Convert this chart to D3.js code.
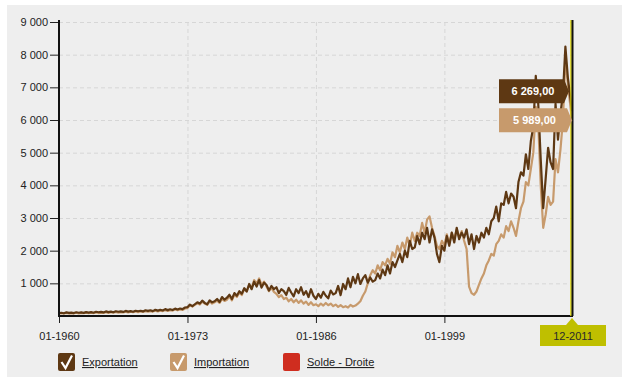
<!DOCTYPE html>
<html>
<head>
<meta charset="utf-8">
<script src="https://cdn.jsdelivr.net/npm/d3@7"></script>
<style>
  body { margin: 0; background: #fff; }
  svg text { font-family: "Liberation Sans", Arial, sans-serif; }
</style>
</head>
<body>
<svg id="chart" width="635" height="385"></svg>
<script>
(function () {
  // one row of 4 quarterly values (Jan, Apr, Jul, Oct) per year
  const years = [1960, 1961, 1962, 1963, 1964, 1965, 1966, 1967, 1968, 1969,
    1970, 1971, 1972, 1973, 1974, 1975, 1976, 1977, 1978, 1979,
    1980, 1981, 1982, 1983, 1984, 1985, 1986, 1987, 1988, 1989,
    1990, 1991, 1992, 1993, 1994, 1995, 1996, 1997, 1998, 1999,
    2000, 2001, 2002, 2003, 2004, 2005, 2006, 2007, 2008, 2009,
    2010, 2011];

  const exportQ = [
    [90, 100, 85, 110], [95, 105, 90, 115], [100, 110, 95, 120], [105, 120, 100, 130],
    [115, 125, 110, 140], [120, 135, 115, 145], [130, 140, 125, 155], [135, 150, 130, 160],
    [145, 160, 140, 175], [155, 175, 150, 190], [165, 190, 170, 210], [180, 205, 185, 225],
    [200, 230, 210, 260], [270, 350, 300, 360], [420, 380, 470, 400], [360, 480, 420, 450],
    [520, 430, 580, 500], [560, 650, 520, 700], [620, 760, 680, 850], [750, 980, 820, 1050],
    [900, 1100, 870, 1020], [950, 780, 920, 820], [880, 700, 820, 760], [650, 860, 720, 600],
    [820, 700, 880, 650], [760, 580, 820, 620], [520, 680, 560, 740], [620, 540, 780, 660],
    [700, 920, 640, 980], [820, 1150, 880, 1200], [1000, 1280, 980, 1150], [1250, 1020, 1180, 1050],
    [1100, 1300, 1150, 1420], [1250, 1550, 1300, 1650], [1500, 1700, 1900, 1650], [2000, 1800, 2300, 2050],
    [2100, 2450, 2200, 2550], [2350, 2700, 2250, 2650], [2400, 1900, 1650, 2150], [2000, 2450, 2150, 2550],
    [2250, 2700, 2350, 2550], [2400, 2650, 2200, 2500], [2050, 2450, 2250, 2550], [2400, 2700, 2500, 2900],
    [3000, 3350, 2900, 3450], [3400, 3800, 3450, 3750], [3650, 3300, 4100, 4400], [4300, 4950, 4500, 5350],
    [5800, 7350, 6500, 4800], [3300, 4200, 5150, 4700], [4500, 6500, 5400, 6200], [6800, 8250, 7300]
  ];

  const importQ = [
    [70, 85, 75, 95], [75, 90, 80, 100], [80, 95, 85, 105], [85, 100, 90, 110],
    [90, 105, 95, 120], [95, 115, 100, 125], [105, 120, 110, 135], [110, 130, 115, 140],
    [120, 140, 125, 150], [130, 150, 135, 165], [140, 165, 150, 180], [155, 180, 165, 200],
    [175, 200, 185, 230], [240, 330, 290, 340], [390, 350, 440, 380], [340, 450, 380, 420],
    [470, 400, 520, 460], [500, 600, 480, 650], [580, 720, 640, 820], [760, 950, 850, 1100],
    [1000, 1150, 950, 1050], [900, 760, 860, 740], [680, 580, 640, 520], [560, 450, 520, 420],
    [500, 400, 480, 380], [440, 340, 420, 330], [360, 300, 380, 320], [400, 330, 380, 300],
    [350, 280, 330, 270], [300, 260, 340, 290], [320, 380, 450, 620], [750, 1000, 1250, 1400],
    [1300, 1550, 1400, 1650], [1550, 1750, 1600, 1950], [1800, 2150, 1950, 2250], [2050, 2400, 2150, 2550],
    [2300, 2550, 2450, 2850], [2550, 2950, 3050, 2700], [2450, 2150, 2050, 2300], [2150, 2500, 2200, 2550],
    [2350, 2650, 2400, 2600], [2300, 2050, 900, 700], [650, 750, 950, 1150], [1300, 1550, 1700, 1900],
    [1850, 2200, 2300, 2500], [2400, 2750, 2600, 2900], [2700, 2450, 2900, 3300], [3500, 4100, 4000, 4500],
    [5000, 6400, 5900, 4000], [2700, 3100, 3650, 3400], [3500, 4800, 4400, 5100], [6000, 7900, 7100]
  ];

  const lastMonth = '12-2011';
  const lastExport = 6269;
  const lastImport = 5989;

  const yTicks = [1000, 2000, 3000, 4000, 5000, 6000, 7000, 8000, 9000];
  const xTicks = ['01-1960', '01-1973', '01-1986', '01-1999'];
  const legendNames = ['Exportation', 'Importation', 'Solde - Droite'];
  const legendColors = ['#5e3813', '#c79a6c', '#cf2d1f'];

  const left = 59, right = 572, top = 22, bottom = 316;

  const fr = d3.formatLocale({ decimal: ',', thousands: '\u00a0', grouping: [3], currency: ['', ''] });
  const fmtInt = fr.format(',.0f');
  const fmtVal = fr.format(',.2f');
  const parseMonth = d3.timeParse('%m-%Y');

  function toSeries(rows, last) {
    const pts = [];
    rows.forEach((q, i) => {
      q.forEach((v, j) => pts.push({ date: new Date(years[i], j * 3, 1), value: v }));
    });
    pts.push({ date: parseMonth(lastMonth), value: last });
    return pts;
  }

  const exportData = toSeries(exportQ, lastExport);
  const importData = toSeries(importQ, lastImport);

  const x = d3.scaleTime()
    .domain([parseMonth('01-1960'), parseMonth(lastMonth)])
    .range([left, right]);
  const y = d3.scaleLinear().domain([0, 9000]).range([bottom, top]);

  const svg = d3.select('#chart');

  svg.append('rect')
    .attr('x', 7).attr('y', 5).attr('width', 615).attr('height', 372)
    .attr('fill', '#eeeeee');

  // grid
  svg.append('g').selectAll('line')
    .data(yTicks)
    .join('line')
    .attr('x1', left).attr('x2', right)
    .attr('y1', d => y(d) + 0.5).attr('y2', d => y(d) + 0.5)
    .attr('stroke', '#d6d6d6').attr('stroke-dasharray', '4,3');

  svg.append('g').selectAll('line')
    .data(xTicks.slice(1))
    .join('line')
    .attr('x1', d => x(parseMonth(d)) + 0.5).attr('x2', d => x(parseMonth(d)) + 0.5)
    .attr('y1', top).attr('y2', bottom)
    .attr('stroke', '#d6d6d6').attr('stroke-dasharray', '4,3');

  // lines
  const line = d3.line().x(d => x(d.date)).y(d => y(d.value));

  svg.append('path')
    .datum(importData)
    .attr('d', line)
    .attr('fill', 'none').attr('stroke', legendColors[1])
    .attr('stroke-width', 2.2).attr('stroke-linejoin', 'round');

  svg.append('path')
    .datum(exportData)
    .attr('d', line)
    .attr('fill', 'none').attr('stroke', legendColors[0])
    .attr('stroke-width', 2.2).attr('stroke-linejoin', 'round');

  // y axis
  const yAxis = svg.append('g')
    .attr('transform', `translate(${left},0)`)
    .call(d3.axisLeft(y).tickValues(yTicks).tickSize(9).tickPadding(2).tickFormat(fmtInt));
  yAxis.select('.domain').remove();
  yAxis.selectAll('.tick line').attr('stroke', '#222');
  yAxis.selectAll('.tick text').attr('font-size', 11).attr('fill', '#222')
    .attr('font-family', '"Liberation Sans", Arial, sans-serif');
  svg.append('line')
    .attr('x1', left).attr('x2', left).attr('y1', top - 2).attr('y2', bottom + 1)
    .attr('stroke', '#111').attr('stroke-width', 2);

  // x axis
  const xAxis = svg.append('g')
    .attr('transform', `translate(0,${bottom})`)
    .call(d3.axisBottom(x).tickValues(xTicks.map(parseMonth)).tickSize(7).tickPadding(9)
      .tickFormat(d3.timeFormat('%m-%Y')));
  xAxis.select('.domain').remove();
  xAxis.selectAll('.tick line').attr('stroke', '#222');
  xAxis.selectAll('.tick text').attr('font-size', 11).attr('fill', '#222')
    .attr('font-family', '"Liberation Sans", Arial, sans-serif');
  svg.append('line')
    .attr('x1', left - 1).attr('x2', right + 1).attr('y1', bottom).attr('y2', bottom)
    .attr('stroke', '#111').attr('stroke-width', 2);

  // cursor at last month
  const cx = x(parseMonth(lastMonth));
  svg.append('line')
    .attr('x1', cx - 1).attr('x2', cx - 1).attr('y1', top - 2).attr('y2', bottom)
    .attr('stroke', '#d6d000').attr('stroke-width', 1.5);
  svg.append('line')
    .attr('x1', cx + 0.5).attr('x2', cx + 0.5).attr('y1', top - 2).attr('y2', bottom)
    .attr('stroke', '#111').attr('stroke-width', 2);

  const cursorLbl = svg.append('g');
  cursorLbl.append('path')
    .attr('d', `M${cx - 6},${bottom + 9} L${cx},${bottom + 2} L${cx + 6},${bottom + 9} Z`)
    .attr('fill', '#bfbf00');
  cursorLbl.append('rect')
    .attr('x', cx - 32).attr('y', bottom + 9).attr('width', 66).attr('height', 21)
    .attr('fill', '#bfbf00');
  cursorLbl.append('text')
    .attr('x', cx + 1).attr('y', bottom + 23.5).attr('text-anchor', 'middle')
    .attr('font-size', 11).attr('fill', '#2a2a2a')
    .text(lastMonth);

  // value tags
  function tag(yc, w, fill, txt) {
    const x0 = 499, x1 = x0 + w, h = 24;
    svg.append('path')
      .attr('d', `M${x0},${yc - h / 2} L${x1},${yc - h / 2} L${x1 + 5},${yc} L${x1},${yc + h / 2} L${x0},${yc + h / 2} Z`)
      .attr('fill', fill);
    svg.append('text')
      .attr('x', x0 + (w + 3) / 2).attr('y', yc + 4)
      .attr('text-anchor', 'middle')
      .attr('font-size', 11).attr('font-weight', 'bold').attr('fill', '#fff')
      .text(txt);
  }
  const yImp = y(lastImport);
  tag(yImp - 29, 65, legendColors[0], fmtVal(lastExport));
  tag(yImp, 68, legendColors[1], fmtVal(lastImport));

  // legend
  const legendX = [58, 170, 283];
  const lg = svg.append('g').selectAll('g')
    .data(legendNames)
    .join('g')
    .attr('transform', (d, i) => `translate(${legendX[i]},353)`);
  lg.append('rect')
    .attr('width', 17).attr('height', 18).attr('rx', 2)
    .attr('fill', (d, i) => legendColors[i]);
  lg.filter((d, i) => i < 2).append('path')
    .attr('d', 'M3.5,9 L7.5,15 L14,2.5')
    .attr('fill', 'none').attr('stroke', '#fff').attr('stroke-width', 2.2);
  lg.append('text')
    .attr('x', 24).attr('y', 13)
    .attr('font-size', 11).attr('fill', '#222')
    .attr('text-decoration', 'underline')
    .text(d => d);
})();
</script>
</body>
</html>
